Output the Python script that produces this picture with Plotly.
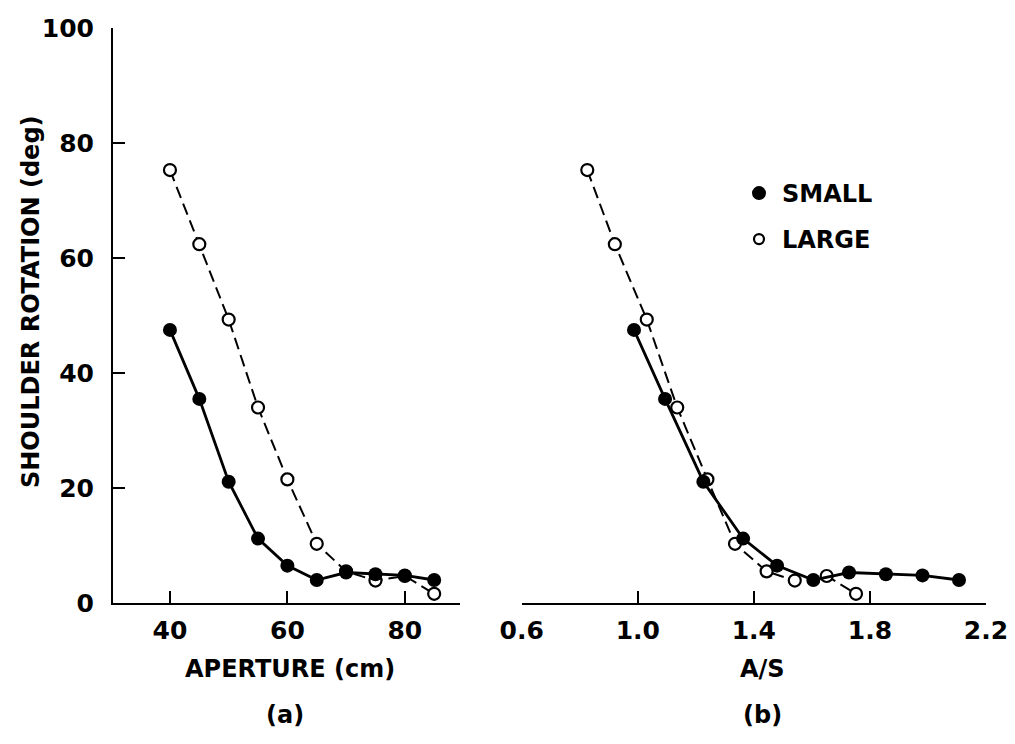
import plotly.graph_objects as go

# ---- data ----
aperture_cm = [40, 45, 50, 55, 60, 65, 70, 75, 80, 85]
rot_small = [47.5, 35.5, 21.1, 11.2, 6.5, 4.0, 5.3, 5.0, 4.8, 4.0]
rot_large = [75.3, 62.4, 49.3, 34.0, 21.5, 10.3, 5.5, 3.9, 4.7, 1.6]
as_small = [0.987, 1.094, 1.226, 1.363, 1.480, 1.605, 1.728, 1.855, 1.981, 2.107]
as_large = [0.826, 0.921, 1.031, 1.136, 1.240, 1.335, 1.444, 1.541, 1.651, 1.752]

y_ticks = [0, 20, 40, 60, 80, 100]
xa_ticks = [40, 60, 80]
xb_ticks = [0.6, 1.0, 1.4, 1.8, 2.2]
xb_ticktext = ["0.6", "1.0", "1.4", "1.8", "2.2"]

FONT = "DejaVu Sans"
W, H = 1015, 744

def px(x):
    return x / W

def py(y):
    return 1 - y / H

small_line = dict(color="black", width=2.8)
small_marker = dict(color="black", size=14, symbol="circle")
large_line = dict(color="black", width=2, dash="12px,6px")
large_marker = dict(color="white", size=12, symbol="circle", line=dict(color="black", width=2.2))

fig = go.Figure()
# panel (a)
fig.add_trace(go.Scatter(x=aperture_cm, y=rot_large, mode="lines+markers", line=large_line,
                         marker=large_marker, xaxis="x", yaxis="y", showlegend=False))
fig.add_trace(go.Scatter(x=aperture_cm, y=rot_small, mode="lines+markers", line=small_line,
                         marker=small_marker, xaxis="x", yaxis="y", showlegend=False))
# panel (b)
fig.add_trace(go.Scatter(x=as_large, y=rot_large, mode="lines+markers", line=large_line,
                         marker=large_marker, xaxis="x2", yaxis="y2", showlegend=False))
fig.add_trace(go.Scatter(x=as_small, y=rot_small, mode="lines+markers", line=small_line,
                         marker=small_marker, xaxis="x2", yaxis="y2", showlegend=False))
# legend entries
fig.add_trace(go.Scatter(x=[None], y=[None], mode="markers", name="SMALL",
                         marker=dict(color="black", size=14), xaxis="x2", yaxis="y2",
                         legend="legend"))
fig.add_trace(go.Scatter(x=[None], y=[None], mode="markers", name="LARGE",
                         marker=dict(color="white", size=10, line=dict(color="black", width=2.2)),
                         xaxis="x2", yaxis="y2", legend="legend2"))

tick_font = dict(family=FONT, size=25, color="black", weight="bold")
axis_common = dict(showline=True, linecolor="black", linewidth=2, ticks="inside",
                   ticklen=12, tickwidth=2, tickcolor="black", showgrid=False,
                   zeroline=False, automargin=False, tickfont=tick_font)

ydom = [py(603), py(28)]
leg_font = dict(family=FONT, size=24, color="black", weight="bold")
fig.update_layout(
    template="none",
    width=W, height=H,
    margin=dict(l=0, r=0, t=0, b=0, pad=0),
    paper_bgcolor="white", plot_bgcolor="white",
    hovermode=False,
    xaxis=dict(domain=[px(113), px(460)], range=[30.3, 89.4], tickvals=xa_ticks,
               anchor="y", ticklabelstandoff=4, **axis_common),
    yaxis=dict(domain=ydom, range=[0, 100], tickvals=y_ticks, anchor="x",
               ticklabelstandoff=12, **axis_common),
    xaxis2=dict(domain=[px(521.7), px(986)], range=[0.6, 2.2], tickvals=xb_ticks,
                ticktext=xb_ticktext, anchor="y2", ticklabelstandoff=4, **axis_common),
    yaxis2=dict(domain=ydom, range=[0, 100], anchor="x2", visible=False, automargin=False),
    legend=dict(x=px(736), y=py(171), xanchor="left", yanchor="top", itemwidth=36,
                font=leg_font, bgcolor="rgba(0,0,0,0)", borderwidth=0),
    legend2=dict(x=px(736), y=py(217), xanchor="left", yanchor="top", itemwidth=36,
                 font=leg_font, bgcolor="rgba(0,0,0,0)", borderwidth=0),
    font=dict(family=FONT, color="black"),
)

ann_font = dict(family=FONT, size=24, color="black", weight="bold")
def label(text, x, y, angle=0):
    fig.add_annotation(text=text, x=px(x), y=py(y), xref="paper", yref="paper",
                       xanchor="center", yanchor="middle", showarrow=False,
                       textangle=angle, font=ann_font)

label("APERTURE (cm)", 290, 669)
label("A/S", 762, 669)
label("(a)", 285, 715)
label("(b)", 762, 715)
label("SHOULDER ROTATION (deg)", 31, 302, -90)

# remove the default page margin so the figure sits at the window's top-left corner
fig.write_html("out.html", config={"displayModeBar": False, "staticPlot": True},
               post_script="document.body.style.margin='0px';")
